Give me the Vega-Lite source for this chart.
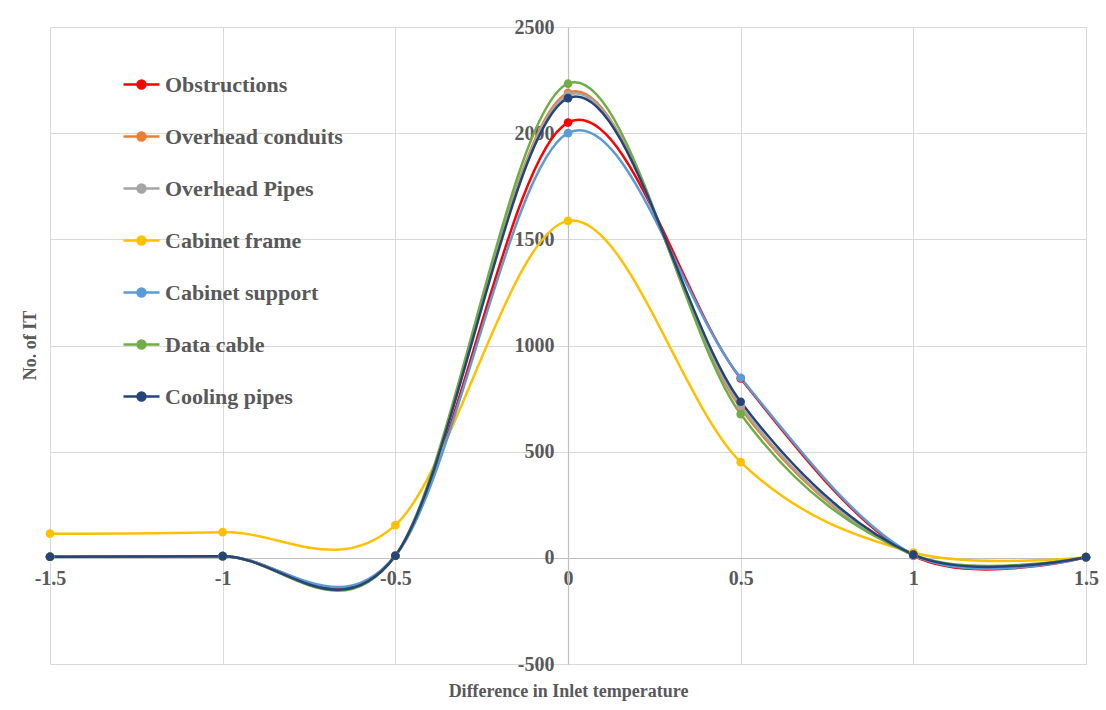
{
  "$schema": "https://vega.github.io/schema/vega-lite/v6.json",
  "width": 1036,
  "height": 637,
  "autosize": "none",
  "padding": {"left": 50, "top": 27, "right": 20, "bottom": 46},
  "background": "white",
  "config": {
    "view": {"stroke": null},
    "font": "Liberation Serif"
  },
  "data": {
    "values": [
      {"series": "Obstructions", "x": -1.5, "y": 5},
      {"series": "Obstructions", "x": -1, "y": 8},
      {"series": "Obstructions", "x": -0.5, "y": 10},
      {"series": "Obstructions", "x": 0, "y": 2050},
      {"series": "Obstructions", "x": 0.5, "y": 845},
      {"series": "Obstructions", "x": 1, "y": 10},
      {"series": "Obstructions", "x": 1.5, "y": 3},
      {"series": "Overhead conduits", "x": -1.5, "y": 5},
      {"series": "Overhead conduits", "x": -1, "y": 8},
      {"series": "Overhead conduits", "x": -0.5, "y": 10},
      {"series": "Overhead conduits", "x": 0, "y": 2190},
      {"series": "Overhead conduits", "x": 0.5, "y": 705},
      {"series": "Overhead conduits", "x": 1, "y": 12},
      {"series": "Overhead conduits", "x": 1.5, "y": 3},
      {"series": "Overhead Pipes", "x": -1.5, "y": 5},
      {"series": "Overhead Pipes", "x": -1, "y": 8},
      {"series": "Overhead Pipes", "x": -0.5, "y": 10},
      {"series": "Overhead Pipes", "x": 0, "y": 2180},
      {"series": "Overhead Pipes", "x": 0.5, "y": 715},
      {"series": "Overhead Pipes", "x": 1, "y": 12},
      {"series": "Overhead Pipes", "x": 1.5, "y": 3},
      {"series": "Cabinet frame", "x": -1.5, "y": 114},
      {"series": "Cabinet frame", "x": -1, "y": 121},
      {"series": "Cabinet frame", "x": -0.5, "y": 154},
      {"series": "Cabinet frame", "x": 0, "y": 1587},
      {"series": "Cabinet frame", "x": 0.5, "y": 451},
      {"series": "Cabinet frame", "x": 1, "y": 25},
      {"series": "Cabinet frame", "x": 1.5, "y": 3},
      {"series": "Cabinet support", "x": -1.5, "y": 5},
      {"series": "Cabinet support", "x": -1, "y": 8},
      {"series": "Cabinet support", "x": -0.5, "y": 10},
      {"series": "Cabinet support", "x": 0, "y": 2000},
      {"series": "Cabinet support", "x": 0.5, "y": 848},
      {"series": "Cabinet support", "x": 1, "y": 15},
      {"series": "Cabinet support", "x": 1.5, "y": 3},
      {"series": "Data cable", "x": -1.5, "y": 5},
      {"series": "Data cable", "x": -1, "y": 8},
      {"series": "Data cable", "x": -0.5, "y": 10},
      {"series": "Data cable", "x": 0, "y": 2233},
      {"series": "Data cable", "x": 0.5, "y": 677},
      {"series": "Data cable", "x": 1, "y": 15},
      {"series": "Data cable", "x": 1.5, "y": 3},
      {"series": "Cooling pipes", "x": -1.5, "y": 5},
      {"series": "Cooling pipes", "x": -1, "y": 8},
      {"series": "Cooling pipes", "x": -0.5, "y": 10},
      {"series": "Cooling pipes", "x": 0, "y": 2165},
      {"series": "Cooling pipes", "x": 0.5, "y": 735},
      {"series": "Cooling pipes", "x": 1, "y": 15},
      {"series": "Cooling pipes", "x": 1.5, "y": 3}
    ]
  },
  "mark": {
    "type": "line",
    "interpolate": "cardinal",
    "tension": 0,
    "strokeWidth": 2.5,
    "point": {"filled": true, "size": 75, "opacity": 1}
  },
  "encoding": {
    "x": {
      "field": "x",
      "type": "quantitative",
      "scale": {"domain": [-1.5, 1.5], "nice": false, "zero": false},
      "axis": {
        "values": [-1.5, -1, -0.5, 0, 0.5, 1, 1.5],
        "labelExpr": "toString(datum.value)",
        "offset": -106,
        "title": "Difference in Inlet temperature",
        "titleFont": "Liberation Serif",
        "titleFontSize": 18,
        "titleFontWeight": "bold",
        "titleColor": "#595959",
        "titleY": 124,
        "labelFont": "Liberation Serif",
        "labelFontSize": 20,
        "labelFontWeight": "bold",
        "labelColor": "#595959",
        "labelPadding": 10,
        "labelFlush": false,
        "labelOverlap": false,
        "ticks": false,
        "domainColor": "#bfbfbf",
        "domainWidth": 1.2,
        "gridColor": "#d9d9d9",
        "gridWidth": 1
      }
    },
    "y": {
      "field": "y",
      "type": "quantitative",
      "scale": {"domain": [-500, 2500], "nice": false},
      "axis": {
        "values": [-500, 0, 500, 1000, 1500, 2000, 2500],
        "labelExpr": "toString(datum.value)",
        "offset": -518,
        "title": "No. of IT",
        "titleFont": "Liberation Serif",
        "titleFontSize": 18,
        "titleFontWeight": "bold",
        "titleColor": "#595959",
        "titleAngle": 270,
        "titleAlign": "center",
        "titleBaseline": "middle",
        "titleX": -538,
        "titleY": 318,
        "labelFont": "Liberation Serif",
        "labelFontSize": 20,
        "labelFontWeight": "bold",
        "labelColor": "#595959",
        "labelPadding": 14,
        "labelFlush": false,
        "labelOverlap": false,
        "ticks": false,
        "domainColor": "#bfbfbf",
        "domainWidth": 1.2,
        "gridColor": "#d9d9d9",
        "gridWidth": 1
      }
    },
    "color": {
      "field": "series",
      "type": "nominal",
      "sort": ["Obstructions", "Overhead conduits", "Overhead Pipes", "Cabinet frame", "Cabinet support", "Data cable", "Cooling pipes"],
      "scale": {
        "domain": ["Obstructions", "Overhead conduits", "Overhead Pipes", "Cabinet frame", "Cabinet support", "Data cable", "Cooling pipes"],
        "range": ["#FF0000", "#ED7D31", "#A5A5A5", "#FFC000", "#5B9BD5", "#70AD47", "#264478"]
      },
      "legend": {
        "title": null,
        "orient": "none",
        "legendX": 72,
        "legendY": 38,
        "symbolType": "M-1,0L1,0M0.22,0A0.22,0.22,0,1,1,-0.22,0A0.22,0.22,0,1,1,0.22,0Z",
        "symbolSize": 1296,
        "symbolStrokeWidth": 2.5,
        "labelFont": "Liberation Serif",
        "labelFontSize": 22,
        "labelFontWeight": "bold",
        "labelColor": "#595959",
        "labelOffset": 4,
        "rowPadding": 21,
        "labelLimit": 400,
        "encode": {
          "symbols": {
            "update": {
              "fill": {"scale": "color", "field": "value"},
              "stroke": {"scale": "color", "field": "value"},
              "fillOpacity": {"value": 1},
              "strokeOpacity": {"value": 1}
            }
          }
        }
      }
    },
    "order": {"field": "x", "type": "quantitative"}
  }
}
